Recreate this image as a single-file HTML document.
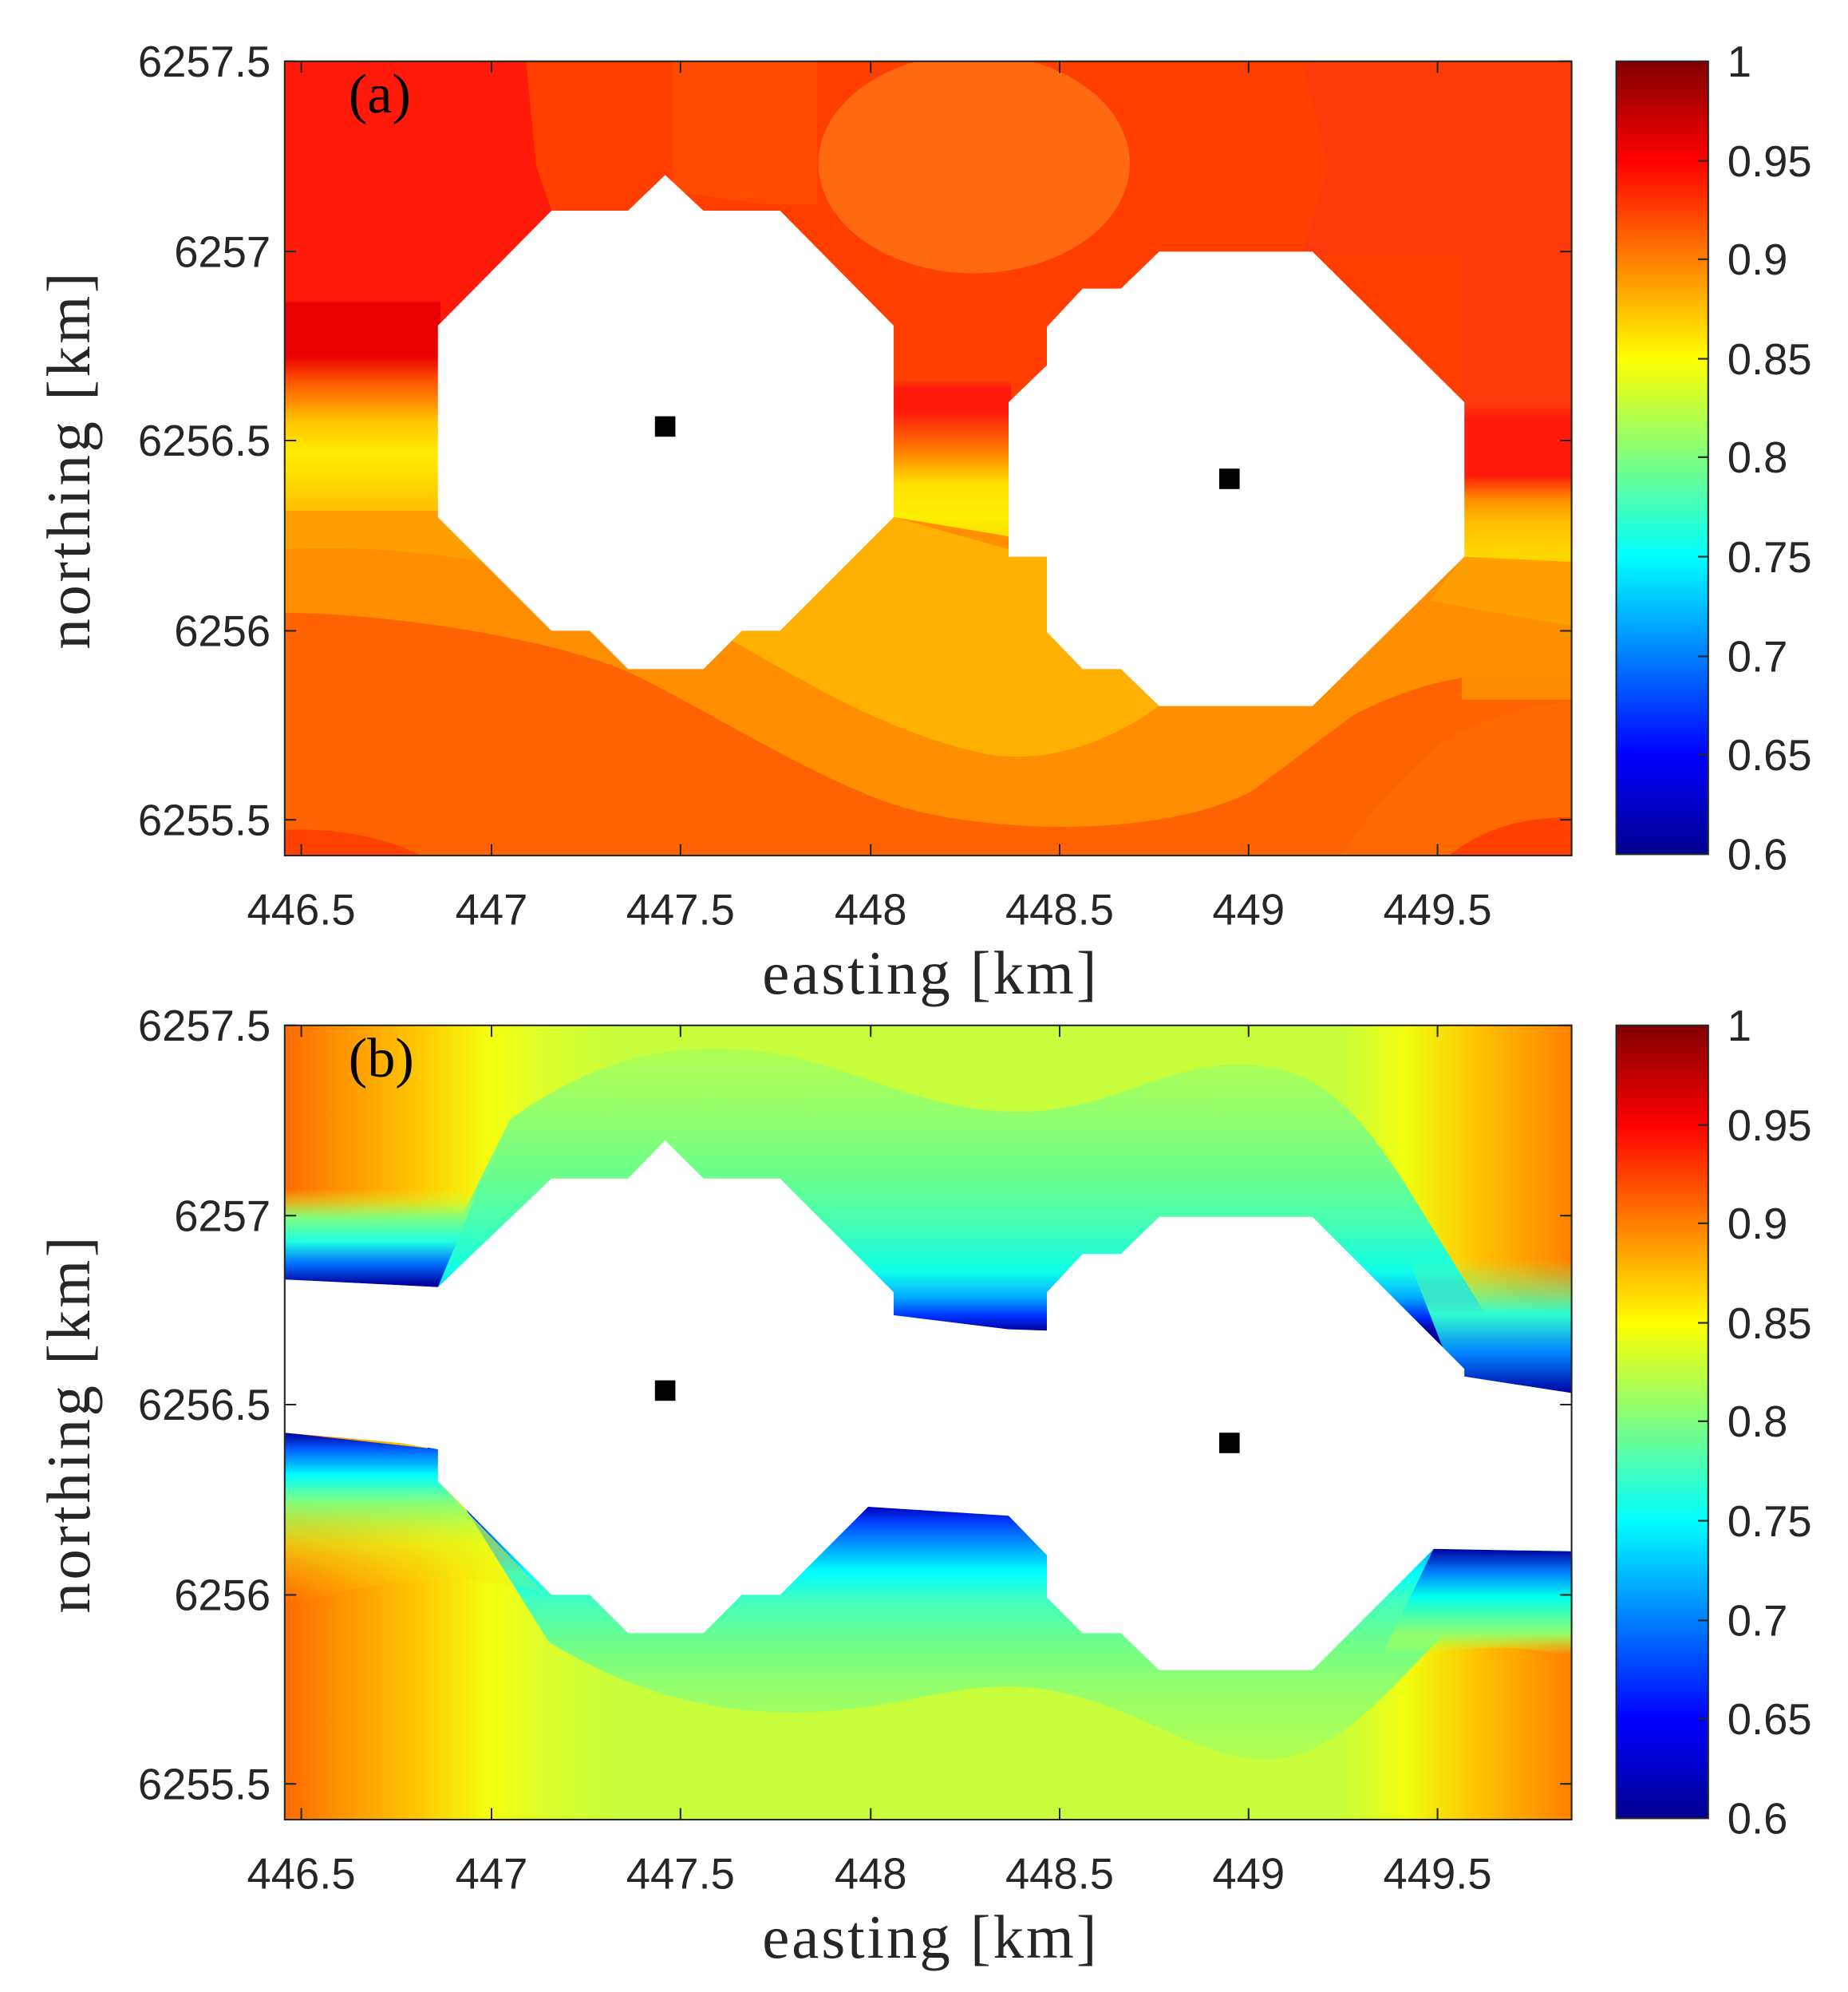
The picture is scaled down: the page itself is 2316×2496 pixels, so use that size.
<!DOCTYPE html>
<html><head><meta charset="utf-8"><style>html,body{margin:0;padding:0;background:#fff}svg{display:block}</style></head>
<body>
<svg xmlns="http://www.w3.org/2000/svg" width="2316" height="2496" viewBox="0 0 1447.5 1560">
<defs>
<linearGradient id="jet" x1="0" y1="1" x2="0" y2="0">
<stop offset="0" stop-color="#00008f"/><stop offset="0.125" stop-color="#0000ff"/><stop offset="0.375" stop-color="#00ffff"/><stop offset="0.625" stop-color="#ffff00"/><stop offset="0.875" stop-color="#ff0000"/><stop offset="1" stop-color="#800000"/>
</linearGradient>
<clipPath id="ca"><rect x="223" y="48" width="1008" height="622"/></clipPath>
<clipPath id="cb"><rect x="223" y="48" width="1008" height="622"/></clipPath>
<linearGradient id="aL" gradientUnits="userSpaceOnUse" x1="0" y1="47" x2="0" y2="673">
<stop offset="0" stop-color="#ff1a0a"/><stop offset="0.30" stop-color="#ff1a0a"/><stop offset="0.305" stop-color="#e60000"/><stop offset="0.37" stop-color="#e80000"/><stop offset="0.40" stop-color="#ff5000"/><stop offset="0.45" stop-color="#ffc000"/><stop offset="0.49" stop-color="#ffec00"/><stop offset="0.53" stop-color="#ffd800"/><stop offset="0.57" stop-color="#ffb800"/><stop offset="0.62" stop-color="#ffa500"/><stop offset="0.70" stop-color="#ff9000"/><stop offset="0.80" stop-color="#ff7000"/><stop offset="1" stop-color="#ff6000"/>
</linearGradient>
<linearGradient id="aM" gradientUnits="userSpaceOnUse" x1="0" y1="47" x2="0" y2="673">
<stop offset="0" stop-color="#ff4000"/><stop offset="0.40" stop-color="#ff4000"/><stop offset="0.41" stop-color="#ff1a0a"/><stop offset="0.44" stop-color="#ff1a0a"/><stop offset="0.49" stop-color="#ff8000"/><stop offset="0.53" stop-color="#ffe000"/><stop offset="0.57" stop-color="#fff000"/><stop offset="0.62" stop-color="#ffd000"/><stop offset="0.68" stop-color="#ffb800"/><stop offset="1" stop-color="#ffa000"/>
</linearGradient>
<linearGradient id="aR" gradientUnits="userSpaceOnUse" x1="0" y1="47" x2="0" y2="673">
<stop offset="0" stop-color="#ff3a0a"/><stop offset="0.43" stop-color="#ff3a0a"/><stop offset="0.45" stop-color="#ff1a0a"/><stop offset="0.52" stop-color="#ff1a0a"/><stop offset="0.55" stop-color="#ff9000"/><stop offset="0.58" stop-color="#ffc000"/><stop offset="0.62" stop-color="#ffd800"/><stop offset="0.67" stop-color="#ffb000"/><stop offset="0.75" stop-color="#ff9000"/><stop offset="1" stop-color="#ff7000"/>
</linearGradient>
<linearGradient id="bH" gradientUnits="userSpaceOnUse" x1="223" y1="0" x2="1231" y2="0">
<stop offset="0" stop-color="#ff6a00"/><stop offset="0.04" stop-color="#ff9000"/><stop offset="0.10" stop-color="#ffc400"/><stop offset="0.16" stop-color="#f4ff10"/><stop offset="0.21" stop-color="#d8ff30"/><stop offset="0.26" stop-color="#c8ff3c"/><stop offset="0.82" stop-color="#c8ff3c"/><stop offset="0.87" stop-color="#f0ff10"/><stop offset="0.93" stop-color="#ffc000"/><stop offset="1" stop-color="#ff8000"/>
</linearGradient>
<linearGradient id="bT" gradientUnits="userSpaceOnUse" x1="0" y1="825" x2="0" y2="1046">
<stop offset="0" stop-color="#b0ff50"/><stop offset="0.2" stop-color="#98ff68"/><stop offset="0.43" stop-color="#70ff88"/><stop offset="0.61" stop-color="#48ffb0"/><stop offset="0.79" stop-color="#10ffe8"/><stop offset="0.88" stop-color="#00b0ff"/><stop offset="0.95" stop-color="#0030ff"/><stop offset="1" stop-color="#0000a0"/>
</linearGradient>
<linearGradient id="bTL" gradientUnits="userSpaceOnUse" x1="0" y1="935" x2="0" y2="1010">
<stop offset="0" stop-color="#e8ff20" stop-opacity="0"/><stop offset="0.3" stop-color="#80ff80"/><stop offset="0.55" stop-color="#20ffe0"/><stop offset="0.78" stop-color="#0070ff"/><stop offset="1" stop-color="#0000a0"/>
</linearGradient>
<linearGradient id="bTR" gradientUnits="userSpaceOnUse" x1="0" y1="990" x2="0" y2="1096">
<stop offset="0" stop-color="#90ff70" stop-opacity="0"/><stop offset="0.4" stop-color="#30ffd0"/><stop offset="0.7" stop-color="#0080ff"/><stop offset="1" stop-color="#0000a0"/>
</linearGradient>
<linearGradient id="bB" gradientUnits="userSpaceOnUse" x1="0" y1="1184" x2="0" y2="1380">
<stop offset="0" stop-color="#0000c0"/><stop offset="0.06" stop-color="#0040ff"/><stop offset="0.16" stop-color="#00a0ff"/><stop offset="0.26" stop-color="#00ffff"/><stop offset="0.37" stop-color="#40ffc0"/><stop offset="0.55" stop-color="#70ff88"/><stop offset="0.75" stop-color="#98ff68"/><stop offset="1" stop-color="#b0ff50"/>
</linearGradient>
<linearGradient id="bBL" gradientUnits="userSpaceOnUse" x1="0" y1="1126" x2="0" y2="1260">
<stop offset="0" stop-color="#0000a0"/><stop offset="0.1" stop-color="#0060ff"/><stop offset="0.25" stop-color="#00ffff"/><stop offset="0.4" stop-color="#80ff80"/><stop offset="0.65" stop-color="#e0ff20" stop-opacity="0.6"/><stop offset="1" stop-color="#ffd000" stop-opacity="0"/>
</linearGradient>
<linearGradient id="bBR" gradientUnits="userSpaceOnUse" x1="0" y1="1217" x2="0" y2="1300">
<stop offset="0" stop-color="#0000a0"/><stop offset="0.22" stop-color="#0080ff"/><stop offset="0.45" stop-color="#00ffee"/><stop offset="0.8" stop-color="#90ff70"/><stop offset="1" stop-color="#c8ff3c" stop-opacity="0"/>
</linearGradient>
</defs>

<!-- ===== Panel (a) ===== -->
<g clip-path="url(#ca)">
<rect x="223" y="48" width="1008" height="622" fill="#ff6200"/>
<rect x="223" y="48" width="1008" height="300" fill="#ff3e00"/>
<path d="M223,48 L412,48 L420,130 L433,168 L343,257 L343,235 L223,235 Z" fill="#ff1a0a"/>
<path d="M1020,48 L1040,130 L1020,200 L1231,200 L1231,48 Z" fill="#ff3a0a"/>
<rect x="223" y="48" width="122" height="390" fill="url(#aL)"/>
<rect x="698" y="48" width="94" height="430" fill="url(#aM)"/>
<rect x="1145" y="48" width="86" height="500" fill="url(#aR)"/>
<path d="M527,48 L640,48 L640,160 L600,160 L527,150 Z" fill="#ff4a00"/>
<ellipse cx="763" cy="128" rx="122" ry="86" fill="#ff6a10"/>
<!-- lower bands -->
<path d="M223,400 L343,400 L432,494 L462,494 L492,524 L551,524 L581,494 L611,494 L700,405 L790,420 L820,436 L820,495 L848,524 L878,524 L908,553 L1028,553 L1147,436 L1231,445 L1231,530 C1150,520 1100,540 1060,560 L980,620 C900,660 760,650 700,630 C640,610 560,560 500,530 C440,500 300,480 223,480 Z" fill="#ff8f00"/>
<path d="M223,400 L343,400 L380,440 C320,430 270,428 223,430 Z" fill="#ffa000"/>
<path d="M1147,436 L1231,440 L1231,490 C1200,485 1170,480 1120,470 Z" fill="#ffa000"/>
<path d="M560,494 L611,494 L700,405 L790,430 L820,436 L820,495 L848,524 L878,524 L908,553 C870,580 820,600 770,590 C700,575 640,540 560,494 Z" fill="#ffb000"/>
<path d="M223,550 C300,545 380,560 440,600 C490,640 530,670 560,670 L223,670 Z" fill="#ff6200"/>
<path d="M1231,550 C1140,555 1100,600 1050,670 L1231,670 Z" fill="#ff6a00"/>
<path d="M223,650 C260,648 300,655 330,670 L223,670 Z" fill="#ff4000"/>
<path d="M1231,640 C1190,640 1160,650 1135,670 L1231,670 Z" fill="#ff4000"/>
<polygon points="343,255 432,165 492,165 521,137 551,165 611,165 700,255 700,405 611,494 581,494 551,524 492,524 462,494 432,494 343,405" fill="#fff"/>
<polygon points="908,197 1028,197 1147,315 1147,436 1028,553 908,553 878,524 848,524 820,495 820,436 790,436 790,315 820,286 820,256 848,226 878,226" fill="#fff"/>
<rect x="513" y="326" width="16" height="16" fill="#000"/>
<rect x="955" y="367" width="16" height="16" fill="#000"/>
</g>
<rect x="223" y="48" width="1008" height="622" fill="none" stroke="#262626" stroke-width="1.3"/>
<g stroke="#262626" stroke-width="1.3">
<path d="M236,670v-9M385,670v-9M533,670v-9M682,670v-9M830,670v-9M978,670v-9M1126,670v-9"/>
<path d="M236,48v9M385,48v9M533,48v9M682,48v9M830,48v9M978,48v9M1126,48v9"/>
<path d="M223,48h9M223,197h9M223,345h9M223,494h9M223,642h9"/>
<path d="M1231,48h-9M1231,197h-9M1231,345h-9M1231,494h-9M1231,642h-9"/>
</g>
<g font-family="Liberation Sans, sans-serif" font-size="34" fill="#262626">
<g text-anchor="end">
<text x="212" y="60">6257.5</text><text x="212" y="209">6257</text><text x="212" y="357">6256.5</text><text x="212" y="506">6256</text><text x="212" y="654">6255.5</text>
</g>
<g text-anchor="middle">
<text x="236" y="724">446.5</text><text x="385" y="724">447</text><text x="533" y="724">447.5</text><text x="682" y="724">448</text><text x="830" y="724">448.5</text><text x="978" y="724">449</text><text x="1126" y="724">449.5</text>
</g>
<text x="1353" y="60">1</text><text x="1353" y="138">0.95</text><text x="1353" y="215">0.9</text><text x="1353" y="293">0.85</text><text x="1353" y="370">0.8</text><text x="1353" y="448">0.75</text><text x="1353" y="526">0.7</text><text x="1353" y="603">0.65</text><text x="1353" y="681">0.6</text>
</g>
<text x="273" y="88" font-family="Liberation Serif, serif" font-size="44" fill="#000">(a)</text>
<text x="728" y="778" text-anchor="middle" font-family="Liberation Serif, serif" font-size="48" textLength="262" fill="#262626">easting [km]</text>
<text transform="translate(70,361) rotate(-90)" text-anchor="middle" font-family="Liberation Serif, serif" font-size="48" textLength="295" fill="#262626">northing [km]</text>
<rect x="1266" y="48" width="72" height="621" fill="url(#jet)" stroke="#262626" stroke-width="1.3"/>
<path d="M1338,126h-8M1338,203h-8M1338,281h-8M1338,358h-8M1338,436h-8M1338,514h-8M1338,591h-8" stroke="#262626" stroke-width="1.3"/>

<!-- ===== Panel (b) ===== -->
<g transform="translate(0,755)">
<g clip-path="url(#cb)">
<g transform="translate(0,-759)">
<rect x="223" y="807" width="1008" height="622" fill="url(#bH)"/>
<path d="M330,1020 L400,880 C450,845 500,825 560,825 C650,825 700,868 780,874 C860,880 900,842 960,838 C1030,834 1060,870 1100,930 L1180,1060 L1238,1080 L1238,1110 L330,1110 Z" fill="url(#bT)"/>
<path d="M223,935 C280,930 330,910 400,875 L343,1012 L223,1006 Z" fill="url(#bTL)"/>
<path d="M1080,930 C1150,960 1200,985 1238,995 L1238,1100 L1140,1085 Z" fill="url(#bTR)"/>
<path d="M330,1130 L430,1290 C480,1320 540,1345 620,1345 C700,1345 740,1322 800,1325 C880,1330 930,1380 990,1382 C1045,1382 1085,1330 1130,1285 L1238,1250 L1238,1120 L330,1120 Z" fill="url(#bB)"/>
<path d="M223,1126 L343,1139 L343,1164 L425,1250 C360,1235 280,1240 223,1265 Z" fill="url(#bBL)"/>
<path d="M1123,1217 L1238,1219 L1238,1305 C1200,1290 1150,1292 1080,1305 Z" fill="url(#bBR)"/>
<path d="M223,1006 L343,1012 L432,927 L492,927 L521,897 L551,927 L611,927 L700,1016 L700,1034 L790,1045 L820,1046 L820,1016 L848,986 L878,986 L908,957 L1028,957 L1147,1076 L1147,1082 L1238,1096 L1238,1219 L1123,1217 L1028,1312 L908,1312 L878,1283 L848,1283 L820,1255 L820,1222 L790,1191 L680,1184 L611,1253 L581,1253 L551,1283 L492,1283 L462,1253 L432,1253 L343,1164 L343,1139 L313,1134 L223,1126 Z" fill="#fff"/>
<rect x="513" y="1085" width="16" height="16" fill="#000"/>
<rect x="955" y="1126" width="16" height="16" fill="#000"/>
</g>
</g>
<rect x="223" y="48" width="1008" height="622" fill="none" stroke="#262626" stroke-width="1.3"/>
<g stroke="#262626" stroke-width="1.3">
<path d="M236,670v-9M385,670v-9M533,670v-9M682,670v-9M830,670v-9M978,670v-9M1126,670v-9"/>
<path d="M236,48v9M385,48v9M533,48v9M682,48v9M830,48v9M978,48v9M1126,48v9"/>
<path d="M223,48h9M223,197h9M223,345h9M223,494h9M223,642h9"/>
<path d="M1231,48h-9M1231,197h-9M1231,345h-9M1231,494h-9M1231,642h-9"/>
</g>
<g font-family="Liberation Sans, sans-serif" font-size="34" fill="#262626">
<g text-anchor="end">
<text x="212" y="60">6257.5</text><text x="212" y="209">6257</text><text x="212" y="357">6256.5</text><text x="212" y="506">6256</text><text x="212" y="654">6255.5</text>
</g>
<g text-anchor="middle">
<text x="236" y="724">446.5</text><text x="385" y="724">447</text><text x="533" y="724">447.5</text><text x="682" y="724">448</text><text x="830" y="724">448.5</text><text x="978" y="724">449</text><text x="1126" y="724">449.5</text>
</g>
<text x="1353" y="60">1</text><text x="1353" y="138">0.95</text><text x="1353" y="215">0.9</text><text x="1353" y="293">0.85</text><text x="1353" y="370">0.8</text><text x="1353" y="448">0.75</text><text x="1353" y="526">0.7</text><text x="1353" y="603">0.65</text><text x="1353" y="681">0.6</text>
</g>
<text x="273" y="88" font-family="Liberation Serif, serif" font-size="44" fill="#000">(b)</text>
<text x="728" y="778" text-anchor="middle" font-family="Liberation Serif, serif" font-size="48" textLength="262" fill="#262626">easting [km]</text>
<text transform="translate(70,361) rotate(-90)" text-anchor="middle" font-family="Liberation Serif, serif" font-size="48" textLength="295" fill="#262626">northing [km]</text>
<rect x="1266" y="48" width="72" height="621" fill="url(#jet)" stroke="#262626" stroke-width="1.3"/>
<path d="M1338,126h-8M1338,203h-8M1338,281h-8M1338,358h-8M1338,436h-8M1338,514h-8M1338,591h-8" stroke="#262626" stroke-width="1.3"/>
</g>
</svg>
</body></html>
